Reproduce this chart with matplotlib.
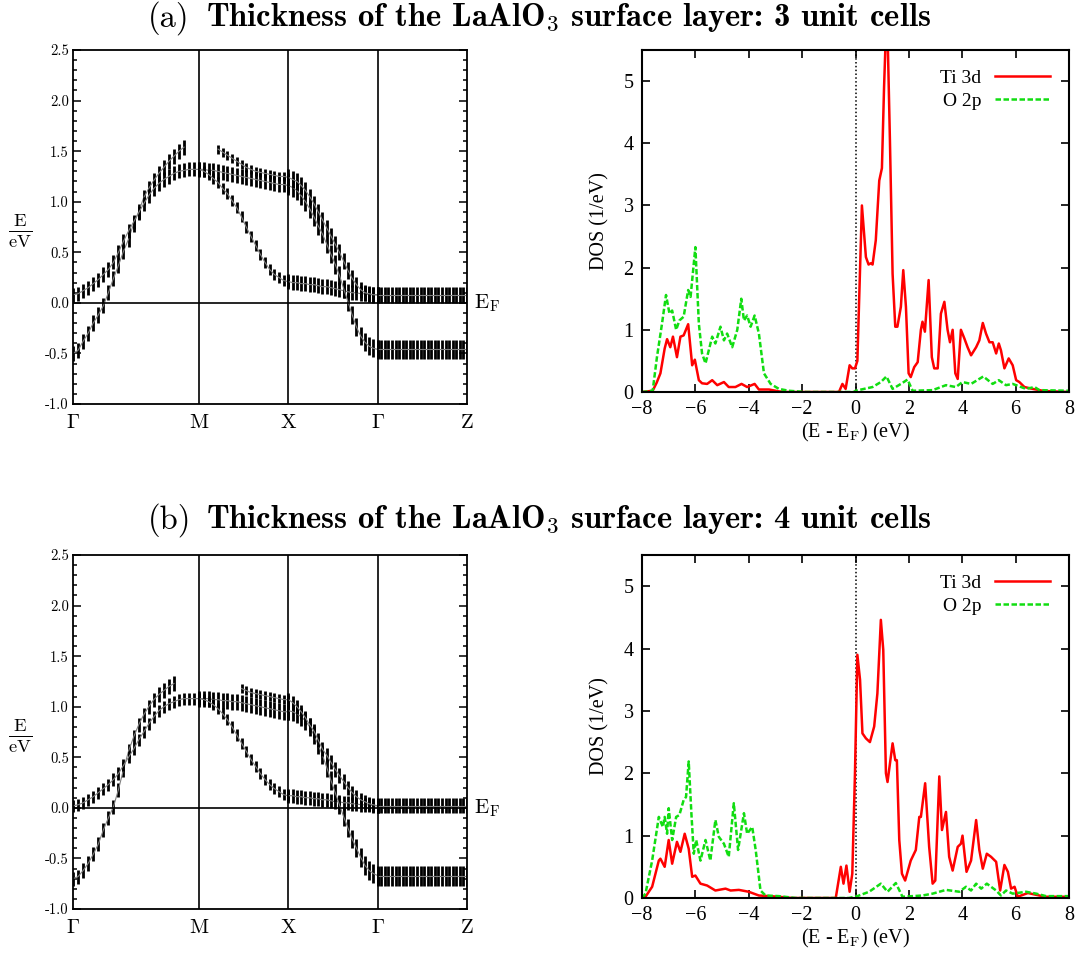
import numpy as np
import matplotlib
matplotlib.use("Agg")
import matplotlib.pyplot as plt
from matplotlib.ticker import MultipleLocator

plt.rcParams["mathtext.fontset"] = "cm"

# ---------------- band structure data ----------------
path_labels = [r"$\Gamma$", r"$\mathrm{M}$", r"$\mathrm{X}$", r"$\Gamma$", r"$\mathrm{Z}$"]
path_len = [np.sqrt(2), 1.0, 1.0, 1.0]          # Γ-M, M-X, X-Γ, Γ-Z
n_k = [26, 20, 22, 26]                          # k-points per segment
nan = float("nan")

# panel (a): 3 unit cells
a_gm_dxy = [-0.50, -0.47, -0.38, -0.30, -0.20, -0.12, -0.03, 0.10, 0.24, 0.37, 0.51, 0.63, 0.78,
            0.90, 1.04, 1.13, 1.21, 1.28, 1.34, 1.40, 1.45, 1.50, 1.54, nan, nan, nan]
a_gm_dxz = [0.08, 0.09, 0.12, 0.15, 0.19, 0.23, 0.28, 0.33, 0.40, 0.50, 0.61, 0.71, 0.80,
            0.89, 0.98, 1.06, 1.13, 1.18, 1.22, 1.25, 1.28, 1.30, 1.31, 1.32, 1.32, 1.32]
a_mx_up = [nan, nan, nan, nan, 1.52, 1.49, 1.46, 1.43, 1.40, 1.37, 1.34, 1.32, 1.30, 1.29,
           1.28, 1.27, 1.26, 1.25, 1.25, 1.24]
a_mx_flat = [1.32, 1.32, 1.31, 1.31, 1.30, 1.29, 1.28, 1.27, 1.26, 1.25, 1.24, 1.23, 1.22,
             1.21, 1.20, 1.19, 1.18, 1.17, 1.17, 1.16]
a_mx_down = [1.32, 1.30, 1.27, 1.23, 1.19, 1.13, 1.08, 1.01, 0.94, 0.85, 0.75, 0.66, 0.57,
             0.48, 0.40, 0.33, 0.28, 0.25, 0.22, 0.21]
a_xg_flat = [0.21, 0.20, 0.20, 0.19, 0.19, 0.18, 0.18, 0.17, 0.16, 0.16, 0.15, 0.14, 0.13,
             0.12, 0.11, 0.10, 0.10, 0.09, 0.09, 0.08, 0.08, 0.08]
a_xg_low = [1.16, 1.14, 1.11, 1.06, 1.00, 0.93, 0.85, 0.76, 0.68, 0.58, 0.48, 0.38, 0.27,
            0.14, 0.01, -0.12, -0.24, -0.33, -0.39, -0.43, -0.45, -0.46]
a_xg_up = [1.24, 1.22, 1.20, 1.16, 1.11, 1.05, 0.98, 0.90, 0.82, 0.74, 0.66, 0.58, 0.50,
           0.41, 0.32, 0.24, 0.18, 0.13, 0.10, 0.09, 0.08, 0.08]
a_gz_top = [0.08, 0.08, 0.08, 0.08, 0.08, 0.08, 0.08, 0.08, 0.08, 0.08, 0.08, 0.08, 0.08,
            0.08, 0.08, 0.08, 0.08, 0.08, 0.08, 0.08, 0.08, 0.08, 0.08, 0.08, 0.08, 0.08]
a_gz_low = [-0.46, -0.46, -0.46, -0.46, -0.46, -0.46, -0.46, -0.46, -0.46, -0.46, -0.46, -0.46, -0.46,
            -0.46, -0.46, -0.46, -0.46, -0.46, -0.46, -0.46, -0.46, -0.46, -0.46, -0.46, -0.46, -0.46]

# panel (b): 4 unit cells
b_gm_dxy = [-0.70, -0.68, -0.62, -0.55, -0.46, -0.36, -0.22, -0.10, 0.01, 0.18, 0.38, 0.56, 0.70,
            0.82, 0.92, 1.00, 1.07, 1.12, 1.16, 1.20, 1.23, nan, nan, nan, nan, nan]
b_gm_dxz = [0.02, 0.03, 0.05, 0.08, 0.11, 0.15, 0.19, 0.23, 0.28, 0.34, 0.42, 0.50, 0.58,
            0.67, 0.75, 0.83, 0.90, 0.96, 1.00, 1.03, 1.05, 1.07, 1.08, 1.08, 1.08, 1.08]
b_mx_up = [nan, nan, nan, nan, nan, nan, nan, nan, nan, 1.18, 1.16, 1.14, 1.13, 1.12, 1.11,
           1.10, 1.09, 1.08, 1.07, 1.07]
b_mx_flat = [1.08, 1.08, 1.08, 1.07, 1.07, 1.06, 1.06, 1.05, 1.05, 1.04, 1.03, 1.02, 1.01,
             1.00, 0.99, 0.98, 0.97, 0.96, 0.95, 0.95]
b_mx_down = [1.08, 1.07, 1.05, 1.02, 0.98, 0.93, 0.87, 0.80, 0.72, 0.64, 0.56, 0.48, 0.41,
             0.34, 0.28, 0.23, 0.19, 0.16, 0.13, 0.12]
b_xg_flat = [0.12, 0.12, 0.11, 0.11, 0.10, 0.10, 0.09, 0.09, 0.08, 0.08, 0.07, 0.06, 0.06,
             0.05, 0.05, 0.04, 0.04, 0.03, 0.03, 0.03, 0.02, 0.02]
b_xg_low = [0.96, 0.95, 0.93, 0.90, 0.86, 0.80, 0.72, 0.62, 0.52, 0.40, 0.27, 0.15, 0.03,
            -0.09, -0.20, -0.31, -0.40, -0.49, -0.57, -0.62, -0.65, -0.67]
b_xg_up = [1.07, 1.04, 1.00, 0.95, 0.89, 0.82, 0.76, 0.67, 0.58, 0.52, 0.45, 0.38, 0.32,
           0.26, 0.20, 0.15, 0.11, 0.08, 0.06, 0.04, 0.03, 0.02]
b_gz_top = [0.02, 0.02, 0.02, 0.02, 0.02, 0.02, 0.02, 0.02, 0.02, 0.02, 0.02, 0.02, 0.02,
            0.02, 0.02, 0.02, 0.02, 0.02, 0.02, 0.02, 0.02, 0.02, 0.02, 0.02, 0.02, 0.02]
b_gz_low = [-0.67, -0.67, -0.67, -0.67, -0.67, -0.67, -0.67, -0.67, -0.67, -0.67, -0.67, -0.67, -0.67,
            -0.67, -0.67, -0.67, -0.67, -0.67, -0.67, -0.67, -0.67, -0.67, -0.67, -0.67, -0.67, -0.67]

# fat-band weights (full bar height in eV), per segment: list of (band, weight)
a_bands = [[(a_gm_dxy, 0.15), (a_gm_dxz, 0.14)],
           [(a_mx_up, 0.09), (a_mx_flat, 0.15), (a_mx_down, 0.11)],
           [(a_xg_flat, 0.15), (a_xg_low, 0.18), (a_xg_up, 0.16)],
           [(a_gz_top, 0.16), (a_gz_low, 0.19)]]
b_bands = [[(b_gm_dxy, 0.14), (b_gm_dxz, 0.12)],
           [(b_mx_up, 0.09), (b_mx_flat, 0.16), (b_mx_down, 0.11)],
           [(b_xg_flat, 0.14), (b_xg_low, 0.18), (b_xg_up, 0.14)],
           [(b_gz_top, 0.15), (b_gz_low, 0.20)]]

# ---------------- DOS data ----------------
ti_a_e = [-8.0, -7.6, -7.45, -7.31, -7.15, -7.06, -6.94, -6.84, -6.69, -6.56, -6.44, -6.27, -6.12,
          -6.02, -5.87, -5.75, -5.56, -5.37, -5.18, -4.93, -4.75, -4.5, -4.27, -4.06, -3.78, -3.62,
          -3.24, -2.87, -2.6, -0.62, -0.49, -0.37, -0.22, -0.12, -0.02, 0.07, 0.24, 0.39, 0.49,
          0.57, 0.64, 0.76, 0.89, 0.99, 1.07, 1.14, 1.2, 1.29, 1.39, 1.49, 1.57, 1.7, 1.79, 1.89,
          1.99, 2.07, 2.2, 2.33, 2.45, 2.51, 2.6, 2.74, 2.86, 2.95, 3.08, 3.2, 3.33, 3.45, 3.54,
          3.64, 3.74, 3.83, 3.95, 4.08, 4.2, 4.33, 4.52, 4.64, 4.77, 4.89, 5.02, 5.14, 5.27, 5.37,
          5.45, 5.58, 5.74, 5.89, 6.02, 6.14, 6.33, 6.64, 7.02, 7.39, 8.0]
ti_a_dos = [0.0, 0.02, 0.15, 0.3, 0.7, 0.85, 0.72, 0.89, 0.56, 0.89, 0.91, 1.09, 0.43,
            0.52, 0.19, 0.14, 0.13, 0.19, 0.11, 0.16, 0.08, 0.08, 0.13, 0.08, 0.13, 0.04,
            0.04, 0.01, 0.0, 0.0, 0.13, 0.05, 0.43, 0.38, 0.38, 0.5, 3.0, 2.17, 2.05,
            2.07, 2.05, 2.44, 3.4, 3.6, 4.9, 5.8, 5.8, 4.05, 1.9, 1.05, 1.05, 1.37, 1.96, 1.37,
            0.3, 0.24, 0.4, 0.48, 1.0, 1.13, 0.97, 1.8, 0.56, 0.38, 0.38, 1.26, 1.45, 1.0, 0.8,
            1.0, 0.3, 0.21, 1.0, 0.86, 0.72, 0.59, 0.72, 0.83, 1.11, 0.94, 0.8, 0.8, 0.62, 0.78,
            0.67, 0.38, 0.54, 0.43, 0.19, 0.16, 0.08, 0.05, 0.02, 0.01, 0.0]
o_a_e = [-8.0, -7.6, -7.44, -7.25, -7.1, -6.97, -6.87, -6.72, -6.6, -6.44, -6.27, -6.18, -6.0,
         -5.87, -5.75, -5.62, -5.37, -5.25, -5.06, -4.93, -4.81, -4.62, -4.43, -4.28, -4.18,
         -4.06, -3.93, -3.78, -3.62, -3.43, -3.18, -2.87, -2.5, -1.87, -0.05, 0.0, 0.64, 0.95,
         1.16, 1.39, 1.7, 1.95, 2.14, 2.89, 3.39, 3.76, 4.01, 4.33, 4.79, 5.14, 5.37, 5.64,
         5.89, 6.39, 6.71, 6.89, 8.0]
o_a_dos = [0.0, 0.02, 0.56, 1.1, 1.56, 1.26, 1.31, 1.0, 1.15, 1.21, 1.64, 1.53, 2.33,
           1.1, 0.62, 0.46, 0.89, 0.78, 1.05, 0.83, 0.94, 0.72, 1.0, 1.5, 1.15,
           1.23, 1.05, 1.23, 0.94, 0.3, 0.13, 0.05, 0.02, 0.0, 0.0, 0.02, 0.08, 0.16,
           0.25, 0.05, 0.13, 0.2, 0.02, 0.03, 0.11, 0.08, 0.16, 0.13, 0.25, 0.13, 0.19, 0.11,
           0.13, 0.05, 0.08, 0.03, 0.02]

ti_b_e = [-8.0, -7.87, -7.62, -7.37, -7.31, -7.15, -7.0, -6.87, -6.69, -6.56, -6.4, -6.25, -6.12,
          -6.0, -5.81, -5.56, -5.25, -4.87, -4.68, -4.37, -4.0, -3.62, -3.24, -2.87, -2.37, -0.74,
          -0.55, -0.45, -0.34, -0.22, -0.12, -0.02, 0.07, 0.17, 0.26, 0.39, 0.54, 0.7, 0.82, 0.95,
          1.04, 1.14, 1.2, 1.39, 1.49, 1.55, 1.64, 1.74, 1.86, 2.07, 2.26, 2.39, 2.45, 2.61, 2.76,
          2.89, 2.99, 3.14, 3.24, 3.39, 3.51, 3.64, 3.83, 3.95, 4.01, 4.16, 4.33, 4.52, 4.64, 4.77,
          4.92, 5.08, 5.27, 5.42, 5.58, 5.71, 5.83, 5.96, 6.08, 6.46, 6.89, 7.14, 8.0]
ti_b_dos = [0.0, 0.02, 0.18, 0.6, 0.63, 0.5, 0.93, 0.55, 0.9, 0.74, 1.03, 0.79, 0.34,
            0.36, 0.23, 0.2, 0.12, 0.15, 0.12, 0.13, 0.1, 0.04, 0.03, 0.02, 0.0, 0.0,
            0.5, 0.23, 0.52, 0.1, 0.39, 2.0, 3.9, 3.5, 2.64, 2.56, 2.5, 2.75, 3.28, 4.46,
            3.98, 2.0, 1.86, 2.48, 2.21, 2.21, 0.93, 0.39, 0.28, 0.6, 0.77, 1.3, 1.3, 1.84, 0.82,
            0.23, 0.28, 1.95, 1.09, 1.38, 0.66, 0.44, 0.82, 0.87, 1.0, 0.42, 0.6, 1.25, 0.77, 0.47,
            0.71, 0.66, 0.58, 0.12, 0.53, 0.42, 0.15, 0.18, 0.02, 0.08, 0.04, 0.02, 0.02]
o_b_e = [-8.0, -7.87, -7.62, -7.37, -7.22, -7.15, -7.06, -7.0, -6.87, -6.72, -6.6, -6.44, -6.35,
         -6.25, -6.15, -6.06, -5.97, -5.81, -5.62, -5.44, -5.25, -5.12, -4.93, -4.75, -4.56,
         -4.4, -4.18, -4.06, -3.87, -3.74, -3.56, -3.37, -2.87, -2.24, -0.24, 0.07, 0.51, 0.95,
         1.2, 1.51, 1.76, 2.51, 2.89, 3.39, 3.89, 4.14, 4.33, 4.52, 4.71, 4.92, 5.27, 5.45,
         5.64, 5.89, 6.39, 6.77, 7.14, 8.0]
o_b_dos = [0.0, 0.07, 0.6, 1.3, 1.14, 1.3, 1.03, 1.44, 0.93, 1.3, 1.33, 1.57, 1.62,
           2.19, 1.36, 0.71, 0.93, 0.6, 0.93, 0.6, 1.25, 0.98, 0.87, 0.66, 1.52,
           0.77, 1.36, 1.03, 1.14, 0.77, 0.12, 0.04, 0.03, 0.0, 0.0, 0.03, 0.1, 0.23,
           0.1, 0.24, 0.02, 0.04, 0.07, 0.13, 0.1, 0.18, 0.12, 0.23, 0.15, 0.23, 0.12, 0.04,
           0.12, 0.07, 0.1, 0.07, 0.03, 0.03]

panel_tags = ["(a)", "(b)"]
title_text = ["Thickness of the LaAlO$_{3}$ surface layer: 3 unit cells",
              "Thickness of the LaAlO$_{3}$ surface layer: 4 unit cells"]

GREEN = "#11dd11"
RED = "#ff0000"
SERIF = "Liberation Serif"


def draw_bands(ax, bands):
    bounds = np.concatenate([[0], np.cumsum(path_len)])
    for s, seg in enumerate(bands):
        k = np.linspace(bounds[s], bounds[s + 1], n_k[s])
        for e, w in seg:
            e = np.asarray(e, dtype=float)
            ok = ~np.isnan(e)
            ax.vlines(k[ok], e[ok] - w / 2, e[ok] + w / 2, color="black", lw=2.0)
            ax.plot(k[ok], e[ok], color="0.5", lw=0.8)
    for b in bounds[1:-1]:
        ax.axvline(b, color="black", lw=1.2)
    ax.axhline(0, color="black", lw=1.2)
    ax.set_xlim(bounds[0], bounds[-1])
    ax.set_ylim(-1.0, 2.5)
    ax.set_xticks(bounds)
    ax.set_xticklabels(path_labels, fontsize=15)
    ax.tick_params(axis="x", length=0, pad=6)
    yt = np.arange(-1.0, 2.51, 0.5)
    ax.set_yticks(yt)
    ax.set_yticklabels(["%.1f" % v for v in yt], fontfamily="cmr10", fontsize=10.5)
    ax.yaxis.set_minor_locator(MultipleLocator(0.1))
    ax.tick_params(axis="y", which="both", direction="in", left=True, right=True, width=1.1)
    ax.tick_params(axis="y", which="major", length=6, pad=3)
    ax.tick_params(axis="y", which="minor", length=3)
    for sp in ax.spines.values():
        sp.set_linewidth(1.3)
    ax.text(-0.135, 0.49, r"$\frac{\mathrm{E}}{\mathrm{eV}}$", fontsize=19,
            transform=ax.transAxes, ha="center", va="center")
    ax.text(1.018, 0.0, r"$\mathrm{E_F}$", fontsize=15, transform=ax.get_yaxis_transform(),
            ha="left", va="center")


def draw_dos(ax, ti_e, ti_d, o_e, o_d):
    ax.axvline(0, color="black", lw=1.1, ls=(0, (1, 1.5)))
    ax.plot(ti_e, ti_d, color=RED, lw=1.8, label="Ti 3d")
    ax.plot(o_e, o_d, color=GREEN, lw=1.8, ls=(0, (2.2, 1.0)), label="O 2p")
    ax.set_xlim(-8, 8)
    ax.set_ylim(0, 5.5)
    ax.set_xticks(np.arange(-8, 9, 2))
    ax.set_yticks(np.arange(0, 6, 1))
    ax.tick_params(direction="in", top=True, right=True, length=6, width=1.2,
                   labelsize=14.5, pad=6)
    for lab in ax.get_xticklabels() + ax.get_yticklabels():
        lab.set_fontfamily(SERIF)
    for sp in ax.spines.values():
        sp.set_linewidth(1.5)
    ax.set_ylabel("DOS (1/eV)", fontsize=14.5, fontfamily=SERIF, labelpad=10)
    ax.set_xlabel(r"(E - E$_{\mathrm{F}}$) (eV)", fontsize=14.5, fontfamily=SERIF, labelpad=1)
    ax.legend(loc="upper right", frameon=False, markerfirst=False, handlelength=2.8,
              handletextpad=0.7, labelspacing=0.25, borderaxespad=0.6,
              prop={"family": SERIF, "size": 14})


fig = plt.figure(figsize=(10.82, 9.59), dpi=100)
W, H = 1082.0, 959.0


def box(l, t, r, b):
    return [l / W, 1 - b / H, (r - l) / W, (b - t) / H]


ax_ba = fig.add_axes(box(73, 50, 467, 404))
ax_da = fig.add_axes(box(642, 50, 1069, 392))
ax_bb = fig.add_axes(box(73, 555, 467, 909))
ax_db = fig.add_axes(box(642, 555, 1069, 898))

draw_bands(ax_ba, a_bands)
draw_bands(ax_bb, b_bands)
draw_dos(ax_da, ti_a_e, ti_a_dos, o_a_e, o_a_dos)
draw_dos(ax_db, ti_b_e, ti_b_dos, o_b_e, o_b_dos)

# titles: regular panel tag followed by bold text (Computer Modern)
for tag, txt, ty in zip(panel_tags, title_text, [18, 520]):
    fig.text(148 / W, 1 - ty / H, tag, ha="left", va="center", fontsize=23.5, fontfamily="cmr10")
    fig.text(206 / W, 1 - ty / H, txt, ha="left", va="center", fontsize=23.5, fontfamily="cmb10")

fig.savefig("out.png", dpi=100)
